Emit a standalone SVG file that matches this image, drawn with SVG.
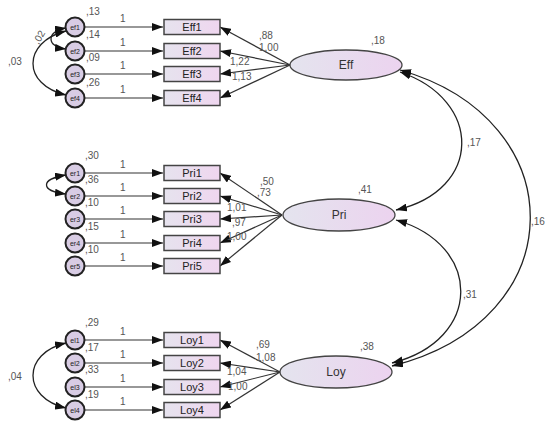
<svg xmlns="http://www.w3.org/2000/svg" width="551" height="424" viewBox="0 0 551 424">
<defs>
<linearGradient id="gb" x1="0" y1="0" x2="1" y2="0"><stop offset="0" stop-color="#e6e3ee"/><stop offset="1" stop-color="#efd6ef"/></linearGradient>
<linearGradient id="ge" x1="0" y1="0" x2="1" y2="0"><stop offset="0" stop-color="#e4e4ee"/><stop offset="1" stop-color="#ecd3ef"/></linearGradient>
<marker id="ah" viewBox="0 0 10 10" refX="10" refY="5" markerWidth="11" markerHeight="8" markerUnits="userSpaceOnUse" orient="auto-start-reverse" preserveAspectRatio="none"><path d="M0,0 L10,5 L0,10 z" fill="#111"/></marker>
</defs>
<style>
.box{fill:url(#gb);stroke:#444;stroke-width:1.5}
.lat{fill:url(#ge);stroke:#444;stroke-width:1.3}
.err{fill:#d8cce4;stroke:#222;stroke-width:2}
.ln{fill:none;stroke:#333;stroke-width:1.2;marker-end:url(#ah)}
.cv{fill:none;stroke:#222;stroke-width:1.3;marker-start:url(#ah);marker-end:url(#ah)}
.bt{font-family:"Liberation Sans",Arial,sans-serif;font-size:11px;fill:#222;text-anchor:middle}
.lt{font-family:"Liberation Sans",Arial,sans-serif;font-size:12px;fill:#333;text-anchor:middle}
.et{font-family:"Liberation Sans",Arial,sans-serif;font-size:7px;fill:#222;text-anchor:middle}
.n{font-family:"Liberation Sans",Arial,sans-serif;font-size:10px;fill:#555}
</style>
<rect width="551" height="424" fill="#fff"/>
<g id="connectors">
<path class="ln" d="M85 27 H163"/><path class="ln" d="M85 51 H163"/><path class="ln" d="M85 74 H163"/><path class="ln" d="M85 98 H163"/>
<path class="ln" d="M85 173 H163"/><path class="ln" d="M85 196 H163"/><path class="ln" d="M85 219 H163"/><path class="ln" d="M85 243 H163"/><path class="ln" d="M85 266 H163"/>
<path class="ln" d="M85 340 H163"/><path class="ln" d="M85 363 H163"/><path class="ln" d="M85 387 H163"/><path class="ln" d="M85 410 H163"/>
<path class="ln" d="M290 65 L220 27"/><path class="ln" d="M290 65 L220 51"/><path class="ln" d="M290 65 L220 74"/><path class="ln" d="M290 65 L220 98"/>
<path class="ln" d="M282 215 L220 173"/><path class="ln" d="M282 215 L220 196"/><path class="ln" d="M282 215 L220 219"/><path class="ln" d="M282 215 L220 243"/><path class="ln" d="M282 215 L220 266"/>
<path class="ln" d="M280 372 L220 340"/><path class="ln" d="M280 372 L220 363"/><path class="ln" d="M280 372 L220 387"/><path class="ln" d="M280 372 L220 410"/>
<path class="cv" d="M66 31 C22 42 22 85 66 95"/>
<path class="cv" d="M66 28 C46 31 46 47 66 49"/>
<path class="cv" d="M66 175 C40 179 40 191 66 194"/>
<path class="cv" d="M66 343 C22 353 22 398 66 408"/>
<path class="cv" d="M400 70 C575 120 575 320 392 366"/>
<path class="cv" d="M400 72 C483 100 483 190 396 210"/>
<path class="cv" d="M396 220 C483 245 483 340 392 363"/>
</g>
<g id="labels">
<text class="n" x="86" y="15">,13</text><text class="n" x="86" y="38">,14</text><text class="n" x="86" y="61">,09</text><text class="n" x="86" y="86">,26</text>
<text class="n" x="85" y="159">,30</text><text class="n" x="85" y="183">,36</text><text class="n" x="85" y="206">,10</text><text class="n" x="85" y="230">,15</text><text class="n" x="85" y="253">,10</text>
<text class="n" x="85" y="326">,29</text><text class="n" x="85" y="351">,17</text><text class="n" x="85" y="373">,33</text><text class="n" x="85" y="398">,19</text>
<g class="n"><text x="120" y="22">1</text><text x="120" y="46">1</text><text x="120" y="69">1</text><text x="120" y="93">1</text>
<text x="120" y="168">1</text><text x="120" y="191">1</text><text x="120" y="214">1</text><text x="120" y="238">1</text><text x="120" y="261">1</text>
<text x="120" y="335">1</text><text x="120" y="358">1</text><text x="120" y="382">1</text><text x="120" y="405">1</text></g>
<text class="n" x="8" y="65">,03</text>
<text class="n" x="34" y="43" transform="rotate(-60 38 40)">,02</text>
<text class="n" x="8" y="380">,04</text>
<text class="n" x="259" y="39">,88</text><text class="n" x="259" y="51">1,00</text><text class="n" x="230" y="65">1,22</text><text class="n" x="232" y="80">1,13</text>
<text class="n" x="260" y="185">,50</text><text class="n" x="257" y="196">,73</text><text class="n" x="227" y="211">1,01</text><text class="n" x="232" y="226">,97</text><text class="n" x="227" y="240">1,00</text>
<text class="n" x="256" y="348">,69</text><text class="n" x="256" y="361">1,08</text><text class="n" x="227" y="375">1,04</text><text class="n" x="228" y="390">1,00</text>
<text class="n" x="371" y="44">,18</text><text class="n" x="358" y="193">,41</text><text class="n" x="360" y="350">,38</text>
<text class="n" x="467" y="146">,17</text><text class="n" x="463" y="298">,31</text><text class="n" x="531" y="225">,16</text>
</g>
<g id="ef1"><circle class="err" cx="75" cy="27" r="9.5"/><text class="et" x="75" y="29.5">ef1</text></g>
<g id="ef2"><circle class="err" cx="75" cy="51" r="9.5"/><text class="et" x="75" y="53.5">ef2</text></g>
<g id="ef3"><circle class="err" cx="75" cy="74" r="9.5"/><text class="et" x="75" y="76.5">ef3</text></g>
<g id="ef4"><circle class="err" cx="75" cy="98" r="9.5"/><text class="et" x="75" y="100.5">ef4</text></g>
<g id="er1"><circle class="err" cx="75" cy="173" r="9.5"/><text class="et" x="75" y="175.5">er1</text></g>
<g id="er2"><circle class="err" cx="75" cy="196" r="9.5"/><text class="et" x="75" y="198.5">er2</text></g>
<g id="er3"><circle class="err" cx="75" cy="219" r="9.5"/><text class="et" x="75" y="221.5">er3</text></g>
<g id="er4"><circle class="err" cx="75" cy="243" r="9.5"/><text class="et" x="75" y="245.5">er4</text></g>
<g id="er5"><circle class="err" cx="75" cy="266" r="9.5"/><text class="et" x="75" y="268.5">er5</text></g>
<g id="el1"><circle class="err" cx="75" cy="340" r="9.5"/><text class="et" x="75" y="342.5">el1</text></g>
<g id="el2"><circle class="err" cx="75" cy="363" r="9.5"/><text class="et" x="75" y="365.5">el2</text></g>
<g id="el3"><circle class="err" cx="75" cy="387" r="9.5"/><text class="et" x="75" y="389.5">el3</text></g>
<g id="el4"><circle class="err" cx="75" cy="410" r="9.5"/><text class="et" x="75" y="412.5">el4</text></g>
<g id="Eff1"><rect class="box" x="164" y="19.5" width="56" height="15"/><text class="bt" x="192" y="31">Eff1</text></g>
<g id="Eff2"><rect class="box" x="164" y="43.5" width="56" height="15"/><text class="bt" x="192" y="55">Eff2</text></g>
<g id="Eff3"><rect class="box" x="164" y="66.5" width="56" height="15"/><text class="bt" x="192" y="78">Eff3</text></g>
<g id="Eff4"><rect class="box" x="164" y="90.5" width="56" height="15"/><text class="bt" x="192" y="102">Eff4</text></g>
<g id="Pri1"><rect class="box" x="164" y="165.5" width="56" height="15"/><text class="bt" x="192" y="177">Pri1</text></g>
<g id="Pri2"><rect class="box" x="164" y="188.5" width="56" height="15"/><text class="bt" x="192" y="200">Pri2</text></g>
<g id="Pri3"><rect class="box" x="164" y="211.5" width="56" height="15"/><text class="bt" x="192" y="223">Pri3</text></g>
<g id="Pri4"><rect class="box" x="164" y="235.5" width="56" height="15"/><text class="bt" x="192" y="247">Pri4</text></g>
<g id="Pri5"><rect class="box" x="164" y="258.5" width="56" height="15"/><text class="bt" x="192" y="270">Pri5</text></g>
<g id="Loy1"><rect class="box" x="164" y="332.5" width="56" height="15"/><text class="bt" x="192" y="344">Loy1</text></g>
<g id="Loy2"><rect class="box" x="164" y="355.5" width="56" height="15"/><text class="bt" x="192" y="367">Loy2</text></g>
<g id="Loy3"><rect class="box" x="164" y="379.5" width="56" height="15"/><text class="bt" x="192" y="391">Loy3</text></g>
<g id="Loy4"><rect class="box" x="164" y="402.5" width="56" height="15"/><text class="bt" x="192" y="414">Loy4</text></g>
<g id="Eff"><ellipse class="lat" cx="346" cy="65" rx="56" ry="15"/><text class="lt" x="346" y="69">Eff</text></g>
<g id="Pri"><ellipse class="lat" cx="339" cy="215" rx="56" ry="16"/><text class="lt" x="339" y="219">Pri</text></g>
<g id="Loy"><ellipse class="lat" cx="336" cy="372" rx="56" ry="16"/><text class="lt" x="336" y="376">Loy</text></g>
</svg>
